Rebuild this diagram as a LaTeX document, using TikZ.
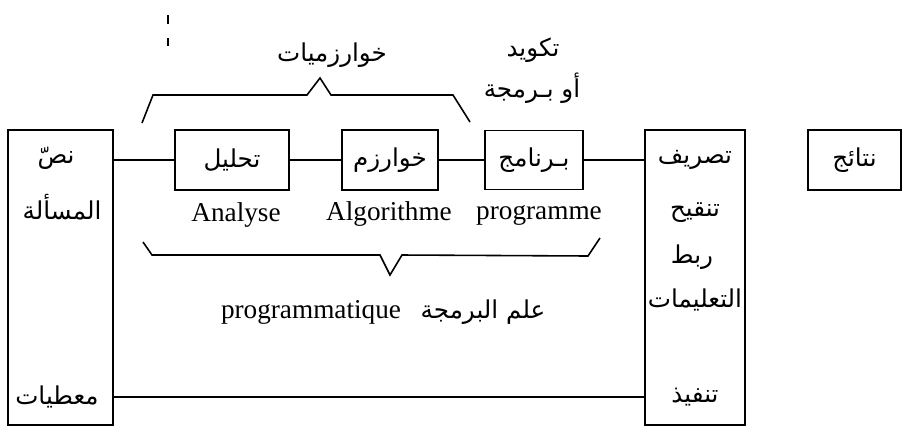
\documentclass[tikz,border=0pt]{standalone}
\usepackage{fontspec}
\setmainfont{Liberation Serif}
\newfontfamily\arabicfont[Script=Arabic]{DejaVu Sans}
\TeXXeTstate=1
\usetikzlibrary{positioning}
\newcommand{\artext}[1]{{\arabicfont\beginR #1\endR}}

\begin{document}
\begin{tikzpicture}[x=0.02cm, y=-0.02cm,
    every node/.style={
        inner sep=0pt,
        font=\fontsize{14}{16}\selectfont
    },
    box/.style={
        rectangle,
        draw,
        line width=1.1pt
    },
    latin/.style={
        anchor=base,
        font=\fontsize{15.5}{18}\selectfont
    },
    link/.style={line width=0.9pt}
]
    \useasboundingbox (0,0) rectangle (903,427);

    % tall boxes
    \node (nass_box) [box, minimum width=2.1cm, minimum height=5.9cm, shift={(60.5,277.5)}] {};
    \node (tasrif_box) [box, minimum width=2cm, minimum height=5.9cm, shift={(695,277.5)}] {};

    % small boxes
    \node (tahlil) [box, minimum width=2.28cm, minimum height=1.2cm, shift={(232,160)}]
    {
        \artext{تحليل}
    };
    \node (khawarizm) [box, minimum width=1.92cm, minimum height=1.2cm, shift={(390,160)}]
    {
        \artext{خوارزم}
    };
    \node (barnamaj) [box, minimum width=1.96cm, minimum height=1.18cm, shift={(534,160)}]
    {
        \artext{بـرنامج}
    };
    \node (natayij) [box, minimum width=1.86cm, minimum height=1.2cm, shift={(854.5,160)}]
    {
        \artext{نتائج}
    };

    % labels in the tall boxes
    \node (nass) [shift={(56,158)}] {\artext{نصّ}};
    \node (masala) [shift={(62,207)}] {\artext{المسألة}};
    \node (muatayat) [shift={(57,397)}] {\artext{معطيات}};
    \node (tasrif) [shift={(695,160)}] {\artext{تصريف}};
    \node (tanqih) [shift={(695,213)}] {\artext{تنقيح}};
    \node (rabt) [shift={(692,257)}] {\artext{ربط}};
    \node (talimat) [shift={(695,300)}] {\artext{التعليمات}};
    \node (tanfidh) [shift={(695,397)}] {\artext{تنفيذ}};

    % labels round the chain
    \node (khawarizmiyat) [shift={(332,55)}] {\artext{خوارزميات}};
    \node (takwid) [shift={(533,50)}] {\artext{تكويد}};
    \node (barmaja) [shift={(532,88)}] {\artext{أو بـرمجة}};
    \node (analyse) [latin, shift={(236,221)}] {Analyse};
    \node (algorithme) [latin, shift={(389,220)}] {Algorithme};
    \node (programme) [latin, shift={(539,219)}] {programme};
    \node (programmatique) [latin, shift={(311,318)}] {programmatique};
    \node (ilm) [shift={(483,312)}] {\artext{علم البرمجة}};

    % connectors
    \draw[link] (tahlil.west) to (tahlil.west -| nass_box.east);
    \draw[link] (tahlil) to (khawarizm);
    \draw[link] (khawarizm) to (barnamaj);
    \draw[link] (barnamaj.east) to (barnamaj.east -| tasrif_box.west);
    \draw[link] (nass_box.east |- muatayat) to (tasrif_box.west |- muatayat);

    % braces
    \draw[link] (142,123) -- (153,95) -- (307,95) -- (320,78) -- (331,95) -- (453,95) -- (470,122);
    \draw[link] (143,242) -- (152,255) -- (380,255) -- (390,275) -- (402,255) -- (588,256) -- (600,238);

    % marks at the top
    \draw[link] (168,15) -- (168,24);
    \draw[link] (168,38) -- (168,46);
\end{tikzpicture}
\end{document}
